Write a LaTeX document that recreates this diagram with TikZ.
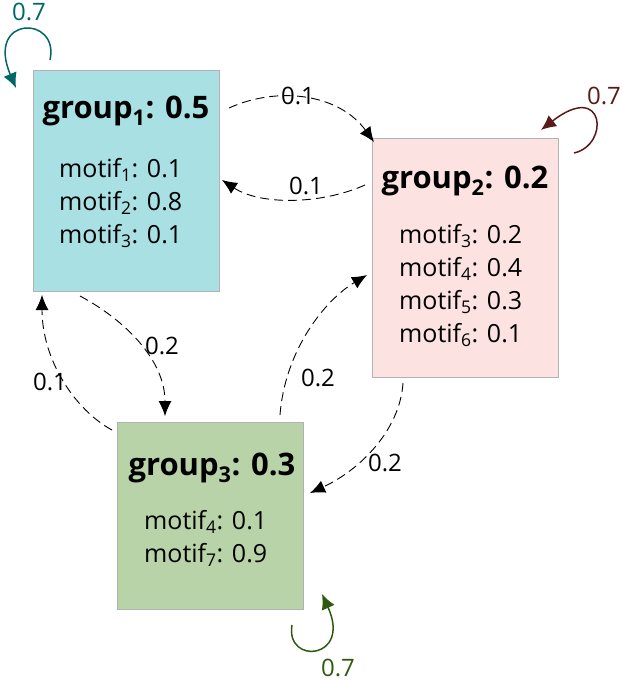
\documentclass[tikz,border=0pt]{standalone}
\usepackage{fontspec}
\setmainfont{Open Sans}
\usetikzlibrary{arrows.meta}
\definecolor{boxA}{HTML}{A8E0E3}
\definecolor{boxB}{HTML}{FDE2E2}
\definecolor{boxC}{HTML}{B9D3A8}
\definecolor{loopA}{HTML}{006666}
\definecolor{loopB}{HTML}{5A1A1A}
\definecolor{loopC}{HTML}{2F5A10}
\begin{document}
\begin{tikzpicture}[x=1pt,y=-1pt,
    groupbox/.style={draw=black!30, line width=1pt},
    title/.style={font=\fontsize{31}{34}\selectfont\bfseries},
    motifs/.style={font=\fontsize{25}{33}\selectfont, align=left, anchor=north west, inner sep=0pt},
    trans/.style={line width=0.9pt, dash pattern=on 9pt off 5pt, -{Latex[length=15pt,width=13pt]}},
    selfloop/.style={line width=1.5pt, -{Latex[length=15pt,width=14pt]}},
    lbl/.style={font=\fontsize{24}{26}\selectfont}]
    \useasboundingbox (0,0) rectangle (623,681);

    % groups
    \fill[boxA, groupbox] (33,70) rectangle (219,291);
    \fill[boxB, groupbox] (372,138) rectangle (558,377);
    \fill[boxC, groupbox] (117,422) rectangle (303,609);

    \node[title] (g1) at (126,111) {group\textsubscript{1}: 0.5};
    \node[motifs] (m1) at (59,158) {motif\textsubscript{1}: 0.1\\motif\textsubscript{2}: 0.8\\motif\textsubscript{3}: 0.1};
    \node[title] (g2) at (465,181) {group\textsubscript{2}: 0.2};
    \node[motifs] (m2) at (399,224) {motif\textsubscript{3}: 0.2\\motif\textsubscript{4}: 0.4\\motif\textsubscript{5}: 0.3\\motif\textsubscript{6}: 0.1};
    \node[title] (g3) at (212,468) {group\textsubscript{3}: 0.3};
    \node[motifs] (m3) at (144,510) {motif\textsubscript{4}: 0.1\\motif\textsubscript{7}: 0.9};

    % end points
    \coordinate (a1) at (229,108);
    \coordinate (a2) at (374,142);
    \coordinate (b1) at (365,185);
    \coordinate (b2) at (222,180);
    \coordinate (c1) at (80,296);
    \coordinate (c2) at (165,416);
    \coordinate (d1) at (112,430);
    \coordinate (d2) at (42,295);
    \coordinate (e1) at (280,415);
    \coordinate (e2) at (367,275);
    \coordinate (f1) at (403,383);
    \coordinate (f2) at (310,493);

    % transitions
    \draw[trans] (a1) .. controls (280,85) and (340,95) .. (a2);
    \draw[trans] (b1) .. controls (320,205) and (260,205) .. (b2);
    \draw[trans] (c1) .. controls (125,320) and (165,360) .. (c2);
    \draw[trans] (d1) .. controls (75,410) and (42,360) .. (d2);
    \draw[trans] (e1) .. controls (285,350) and (325,300) .. (e2);
    \draw[trans] (f1) .. controls (400,430) and (360,470) .. (f2);

    \node[lbl] (l1) at (298,96) {0.1};
    \node[lbl] (l2) at (306,186) {0.1};
    \node[lbl] (l3) at (162,346) {0.2};
    \node[lbl] (l4) at (50,382) {0.1};
    \node[lbl] (l5) at (318,378) {0.2};
    \node[lbl] (l6) at (385,463) {0.2};

    % self loops
    \coordinate (s1) at (50,60);
    \coordinate (t1) at (16,88);
    \coordinate (s2) at (574,153);
    \coordinate (t2) at (541,130);
    \coordinate (s3) at (292,625);
    \coordinate (t3) at (322,594);
    \draw[selfloop, loopA] (s1) .. controls (60,15) and (-15,15) .. (t1);
    \draw[selfloop, loopB] (s2) .. controls (610,145) and (605,80) .. (t2);
    \draw[selfloop, loopC] (s3) .. controls (285,665) and (352,660) .. (t3);
    \node[lbl, loopA] (p1) at (29,12) {0.7};
    \node[lbl, loopB] (p2) at (604,96) {0.7};
    \node[lbl, loopC] (p3) at (338,668) {0.7};
\end{tikzpicture}
\end{document}
